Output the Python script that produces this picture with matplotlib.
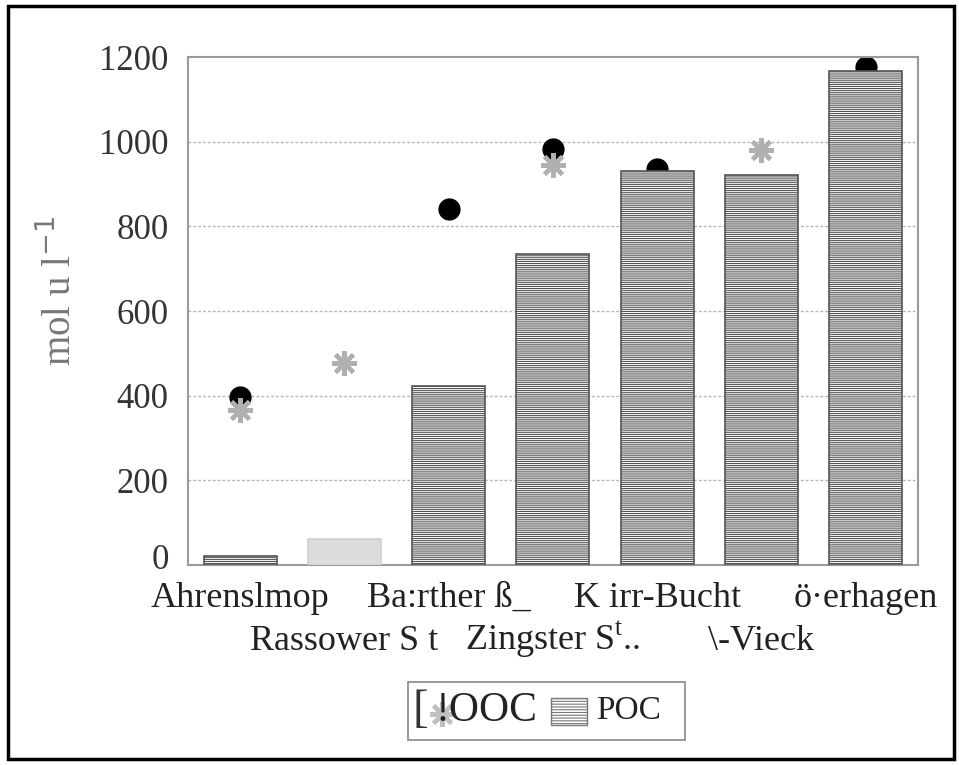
import numpy as np
import matplotlib.pyplot as plt
import matplotlib.transforms as mtransforms
from matplotlib.patches import Rectangle

plt.rcParams['font.family'] = ['Liberation Serif', 'DejaVu Serif']

# data
sites = ['Ahrenslmop', 'Rassower S t', 'Ba:rther ß_', 'Zingster S$^{\\mathregular{t}}$..',
         'K irr-Bucht', '\\-Vieck', 'ö·erhagen']
poc = [22, 62, 422, 735, 930, 922, 1168]
doc_dot = [398, np.nan, 840, 982, 935, np.nan, 1177]
doc_star = [366, 478, np.nan, 944, np.nan, 981, np.nan]
yticks = [0, 200, 400, 600, 800, 1000, 1200]
ytick_labels = ['0', '200', '400', '600', '800', '1000', '1200']

fig = plt.figure(figsize=(9.59, 7.65), dpi=100)
ax = fig.add_axes([0.196, 0.2614, 0.761, 0.664])
x = np.arange(len(sites))

ax.plot(x, doc_dot, 'o', color='black', ms=15, zorder=2)
plt.rcParams['hatch.linewidth'] = 0.8
bars = ax.bar(x, poc, width=0.7, color='white', edgecolor='#555555',
              hatch='--------', linewidth=1.2, zorder=3)
bars[1].set_facecolor('#dcdcdc')
bars[1].set_edgecolor('#d0d0d0')
bars[1].set_hatch('')
ax.plot(x, doc_star, marker=(8, 2, 0), ls='none', color='#b0b0b0', ms=18,
        mew=3, zorder=4)

ax.set_xlim(-0.5, 6.5)
ax.set_ylim(0, 1200)
ax.set_yticks(yticks)
ax.set_yticklabels(ytick_labels, fontsize=25, color='#333333')
ax.tick_params(axis='y', length=0, pad=14)
ax.tick_params(axis='x', length=0)
ax.set_xticks([])
# the 0 label sits a little above the axis line in the scan
lab0 = ax.get_yticklabels()[0]
lab0.set_transform(lab0.get_transform() +
                   mtransforms.ScaledTranslation(0, 9 / 100, fig.dpi_scale_trans))
for y in yticks[1:-1]:
    ax.axhline(y, color='#b5b5b5', lw=1, ls=(0, (2, 1.5)), zorder=1)
for s in ax.spines.values():
    s.set_color('#9a9a9a')
    s.set_linewidth(1.5)

# alternating two-row category labels
for i, name in enumerate(sites):
    ax.annotate(name, (i, 0), xycoords=('data', 'axes fraction'),
                xytext=(0, -30 if i % 2 == 0 else -61), textcoords='offset points',
                ha='center', va='baseline', fontsize=26, color='#222222')

fig.text(0.062, 0.62, 'mol u l$^{-1}$', rotation=90, ha='center', va='center',
         fontsize=28, color='#777777')

# legend
lx0, ly0, lw, lh = 408 / 959, 1 - 740 / 765, 277 / 959, 58 / 765
fig.patches.append(Rectangle((lx0, ly0), lw, lh, transform=fig.transFigure,
                             fill=False, edgecolor='#888888', lw=1.2))
fig.text(412 / 959, ly0 + lh / 2, '[', fontsize=34, va='center', color='#333333')
fig.lines.append(plt.Line2D([442 / 959], [ly0 + lh / 2 - 0.004], marker=(8, 2, 0),
                            color='#c0c0c0', ms=18, mew=3, transform=fig.transFigure,
                            zorder=0))
fig.text(436 / 959, ly0 + lh / 2, '!OOC', fontsize=30, va='center', color='#222222')
fig.patches.append(Rectangle((551 / 959, ly0 + 0.02), 36 / 959, 0.035,
                             transform=fig.transFigure, facecolor='white',
                             edgecolor='#777777', hatch='------', lw=1))
fig.text(596 / 959, ly0 + lh / 2, 'POC', fontsize=24, va='center', color='#222222')

# outer frame
fig.patches.append(Rectangle((8 / 959, 6 / 765), 946 / 959, 753 / 765,
                             transform=fig.transFigure, fill=False,
                             edgecolor='black', lw=2.5))

fig.savefig('out.png', dpi=100)
